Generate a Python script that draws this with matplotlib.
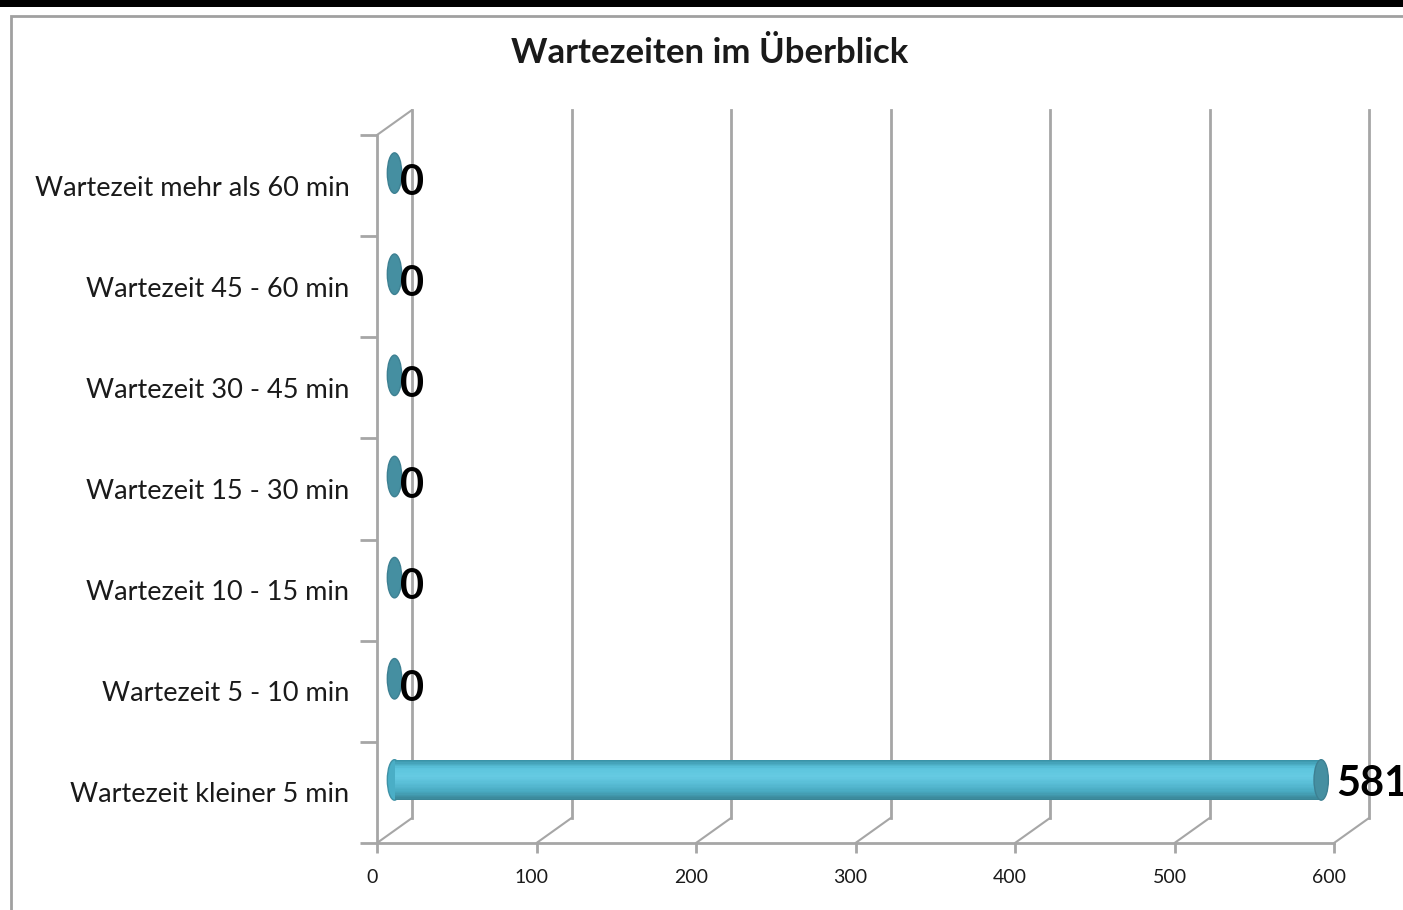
import matplotlib
matplotlib.use("Agg")
import matplotlib.pyplot as plt
from matplotlib.patches import Ellipse, Rectangle, ConnectionPatch
from matplotlib.transforms import ScaledTranslation
from matplotlib.colors import LinearSegmentedColormap

plt.rcParams['font.family'] = ['Lato', 'DejaVu Sans']

# data (bottom to top, as excel draws it)
categories = ['Wartezeit kleiner 5 min', 'Wartezeit 5 - 10 min', 'Wartezeit 10 - 15 min',
              'Wartezeit 15 - 30 min', 'Wartezeit 30 - 45 min', 'Wartezeit 45 - 60 min',
              'Wartezeit mehr als 60 min']
values = [581, 0, 0, 0, 0, 0, 0]
x_ticks = [0, 100, 200, 300, 400, 500, 600]
title = 'Wartezeiten im Überblick'

grid_col = '#a6a6a6'
text_col = '#1a1a1a'

fig = plt.figure(figsize=(14.03, 9.10), dpi=100)
fig.patch.set_facecolor('white')

# black strip on top and the chart border
fig.patches.append(Rectangle((0, 1 - 7 / 910), 1, 7 / 910, transform=fig.transFigure,
                             facecolor='black', edgecolor='none', zorder=0))
fig.patches.append(Rectangle((11 / 1403, -0.1), 1.2, 1 - 16 / 910 + 0.1, transform=fig.transFigure,
                             facecolor='none', edgecolor='#a0a0a0', linewidth=2, zorder=0))

ax = fig.add_axes([377 / 1403, 67 / 910, 957 / 1403, 708 / 910])
ax.set_xlim(0, 600)
ax.set_ylim(-0.5, len(categories) - 0.5)
ax.set_facecolor('none')
for s in ['top', 'right']:
    ax.spines[s].set_visible(False)
for s in ['left', 'bottom']:
    ax.spines[s].set_color(grid_col)
    ax.spines[s].set_linewidth(2)

# 3d depth: back wall shifted right/up, bars sit half way
back = ax.transData + ScaledTranslation(0.35, 0.25, fig.dpi_scale_trans)
mid = ax.transData + ScaledTranslation(0.175, 0.125, fig.dpi_scale_trans)

ytop = len(categories) - 0.5
for v in x_ticks:
    ax.plot([v, v], [-0.5, ytop], transform=back, color=grid_col, lw=2, zorder=1, clip_on=False)
    ax.add_artist(ConnectionPatch(xyA=(v, -0.5), coordsA=ax.transData, xyB=(v, -0.5), coordsB=back,
                                  color=grid_col, lw=1.5, zorder=1))
ax.add_artist(ConnectionPatch(xyA=(0, ytop), coordsA=ax.transData, xyB=(0, ytop), coordsB=back,
                              color=grid_col, lw=1.5, zorder=1))

# ticks
ax.set_xticks(x_ticks)
ax.set_xticklabels([str(t) for t in x_ticks], fontsize=14, color=text_col)
ax.tick_params(axis='x', length=7, width=2, color=grid_col, pad=12)
ax.set_yticks(range(len(categories)))
ax.set_yticklabels(categories, fontsize=19.5, color=text_col)
ax.tick_params(axis='y', which='major', length=0, pad=27)
ax.set_yticks([i - 0.5 for i in range(len(categories) + 1)], minor=True)
ax.tick_params(axis='y', which='minor', length=12, width=2, color=grid_col)
shift = ScaledTranslation(-0.05, 0, fig.dpi_scale_trans)
for lab in ax.get_xticklabels():
    lab.set_transform(lab.get_transform() + shift)
shift_y = ScaledTranslation(0.1, 0, fig.dpi_scale_trans)
for lab in ax.get_yticklabels():
    lab.set_transform(lab.get_transform() + shift_y)

# cylinders
grad = LinearSegmentedColormap.from_list('cyl', ['#3a93a8', '#5cc4dd', '#66cbe3', '#58bcd5',
                                                 '#48a9c0', '#3a8596'])
h = 0.40
n = 30
cap_w = 9
for i, v in enumerate(values):
    if v > 0:
        ax.add_patch(Ellipse((0, i), cap_w, h, transform=mid, facecolor='#4aaec6',
                             edgecolor='#3f92a6', lw=1, zorder=3))
        for k in range(n):
            y0 = i + h / 2 - (k + 1) * h / n
            ax.barh(y0, v, height=h / n, left=0, align='edge', color=grad(k / (n - 1)),
                    transform=mid, zorder=4, linewidth=0)
    ax.add_patch(Ellipse((v, i), cap_w, h, transform=mid, facecolor='#458fa1',
                         edgecolor='#3d8092', lw=1, zorder=5))
    dx, dy = (4, -7) if v == 0 else (11, -3)
    ax.annotate(str(v), xy=(v, i), xycoords=mid, xytext=(dx, dy), textcoords='offset points',
                ha='left', va='center', fontsize=30, fontweight='bold', color='black',
                annotation_clip=False, zorder=6)

fig.text(710 / 1403, 1 - 53 / 910, title, ha='center', va='center', fontsize=25,
         fontweight='bold', color=text_col)

fig.savefig('out.png', dpi=100)
